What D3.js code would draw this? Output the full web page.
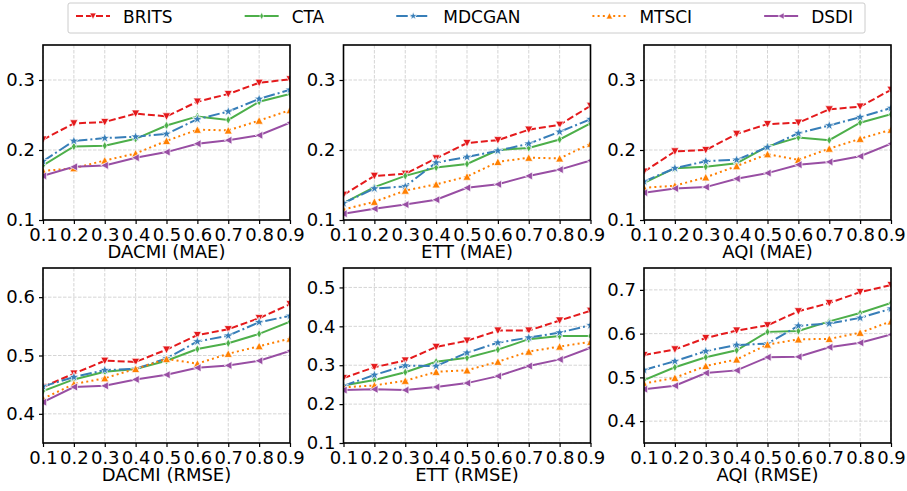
<!DOCTYPE html>
<html>
<head>
<meta charset="utf-8">
<script src="https://cdn.jsdelivr.net/npm/d3@7"></script>
<style>
  body { margin: 0; background: #fff; }
  svg { font-family: 'DejaVu Sans', sans-serif; }
</style>
</head>
<body>
<div id="chart"></div>
<script>
// missing ratios on the x axis
var ratios = [0.1, 0.2, 0.3, 0.4, 0.5, 0.6, 0.7, 0.8, 0.9]
var methods = ['BRITS', 'CTA', 'MDCGAN', 'MTSCI', 'DSDI']
var colors = ['#e41a1c', '#4daf4a', '#377eb8', '#ff7f00', '#984ea3']

// one row per method, in the order of methods
var dacmiMae = [
  [0.215, 0.238, 0.240, 0.252, 0.248, 0.269, 0.280, 0.296, 0.301],
  [0.178, 0.205, 0.206, 0.216, 0.235, 0.248, 0.243, 0.269, 0.280],
  [0.184, 0.213, 0.217, 0.219, 0.223, 0.244, 0.255, 0.273, 0.286],
  [0.170, 0.174, 0.185, 0.195, 0.213, 0.229, 0.228, 0.242, 0.257],
  [0.163, 0.176, 0.178, 0.189, 0.197, 0.209, 0.214, 0.221, 0.239]
]
var ettMae = [
  [0.136, 0.163, 0.166, 0.188, 0.210, 0.214, 0.229, 0.236, 0.263],
  [0.124, 0.147, 0.163, 0.175, 0.180, 0.200, 0.203, 0.215, 0.238],
  [0.124, 0.145, 0.148, 0.182, 0.190, 0.199, 0.209, 0.226, 0.244],
  [0.115, 0.126, 0.142, 0.151, 0.162, 0.183, 0.189, 0.188, 0.209],
  [0.109, 0.116, 0.122, 0.129, 0.146, 0.151, 0.163, 0.172, 0.185]
]
var aqiMae = [
  [0.169, 0.198, 0.200, 0.223, 0.237, 0.239, 0.258, 0.262, 0.286],
  [0.153, 0.174, 0.176, 0.181, 0.205, 0.218, 0.214, 0.239, 0.251],
  [0.155, 0.174, 0.184, 0.186, 0.204, 0.224, 0.235, 0.247, 0.260],
  [0.146, 0.149, 0.161, 0.177, 0.194, 0.186, 0.202, 0.216, 0.229],
  [0.139, 0.145, 0.147, 0.159, 0.167, 0.179, 0.183, 0.191, 0.209]
]
var dacmiRmse = [
  [0.446, 0.469, 0.491, 0.489, 0.510, 0.535, 0.545, 0.564, 0.588],
  [0.439, 0.459, 0.472, 0.477, 0.491, 0.511, 0.521, 0.537, 0.558],
  [0.447, 0.463, 0.475, 0.477, 0.495, 0.524, 0.534, 0.557, 0.568],
  [0.426, 0.451, 0.461, 0.477, 0.494, 0.486, 0.503, 0.516, 0.529],
  [0.420, 0.446, 0.448, 0.459, 0.467, 0.479, 0.483, 0.491, 0.508]
]
var ettRmse = [
  [0.267, 0.295, 0.312, 0.347, 0.363, 0.389, 0.389, 0.415, 0.440],
  [0.248, 0.262, 0.282, 0.309, 0.319, 0.340, 0.367, 0.375, 0.375],
  [0.247, 0.275, 0.299, 0.298, 0.332, 0.358, 0.371, 0.384, 0.403],
  [0.243, 0.248, 0.260, 0.283, 0.287, 0.309, 0.335, 0.348, 0.360],
  [0.236, 0.238, 0.236, 0.244, 0.254, 0.272, 0.298, 0.315, 0.345]
]
var aqiRmse = [
  [0.551, 0.564, 0.590, 0.607, 0.619, 0.651, 0.670, 0.695, 0.711],
  [0.494, 0.523, 0.546, 0.562, 0.604, 0.606, 0.628, 0.647, 0.670],
  [0.517, 0.537, 0.560, 0.574, 0.577, 0.618, 0.623, 0.636, 0.657],
  [0.486, 0.499, 0.526, 0.541, 0.575, 0.587, 0.588, 0.602, 0.628],
  [0.473, 0.481, 0.510, 0.516, 0.546, 0.547, 0.569, 0.579, 0.598]
]

var panelTitles = ['DACMI (MAE)', 'ETT (MAE)', 'AQI (MAE)', 'DACMI (RMSE)', 'ETT (RMSE)', 'AQI (RMSE)']
var panelData = [dacmiMae, ettMae, aqiMae, dacmiRmse, ettRmse, aqiRmse]
var yDomains = [[0.1, 0.35], [0.1, 0.35], [0.1, 0.35], [0.35, 0.65], [0.1, 0.55], [0.35, 0.75]]
var yTickVals = [
  [0.1, 0.2, 0.3], [0.1, 0.2, 0.3], [0.1, 0.2, 0.3],
  [0.4, 0.5, 0.6], [0.1, 0.2, 0.3, 0.4, 0.5], [0.4, 0.5, 0.6, 0.7]
]

// layout settings
var chart = {
  width: 907,
  height: 491,
  colLeft: [43, 343.5, 644],
  rowTop: [45, 268],
  panelW: 247,
  panelH: 175,
  lineW: 2
}
var dashes = ['7,3', null, '11.5,3,2,3', '2,3.2', null]

// marker shapes, r is the half size
function markerPath (i, r) {
  var p
  if (i === 0) p = [[0, r], [-r, -r * 0.9], [r, -r * 0.9]]
  else if (i === 1) p = [[0, -r * 1.1], [r * 0.6, 0], [0, r * 1.1], [-r * 0.6, 0]]
  else if (i === 2) {
    p = []
    for (var k = 0; k < 10; k++) {
      var a = -Math.PI / 2 + k * Math.PI / 5
      var rr = k % 2 === 0 ? r * 1.3 : r * 0.52
      p.push([rr * Math.cos(a), rr * Math.sin(a)])
    }
  } else if (i === 3) p = [[0, -r], [-r, r * 0.9], [r, r * 0.9]]
  else p = [[-r, 0], [r * 0.9, -r], [r * 0.9, r]]
  return 'M' + p.map(function (d) { return d[0].toFixed(2) + ',' + d[1].toFixed(2) }).join('L') + 'Z'
}

var svg = d3.select('#chart')
  .append('svg')
  .attr('width', chart.width)
  .attr('height', chart.height)

panelData.forEach(function (series, pi) {
  var left = chart.colLeft[pi % 3]
  var top = chart.rowTop[Math.floor(pi / 3)]
  var g = svg.append('g').attr('transform', 'translate(' + left + ',' + top + ')')

  var xScale = d3.scaleLinear().domain([0.1, 0.9]).range([0, chart.panelW])
  var yScale = d3.scaleLinear().domain(yDomains[pi]).range([chart.panelH, 0])

  // grid
  g.append('g').selectAll('line')
    .data(ratios)
    .enter()
    .append('line')
    .attr('x1', function (d) { return xScale(d) })
    .attr('x2', function (d) { return xScale(d) })
    .attr('y1', 0)
    .attr('y2', chart.panelH)
    .attr('stroke', '#d0d0d0')
    .attr('stroke-width', 0.9)
    .attr('stroke-dasharray', '3.5,1.5')
  g.append('g').selectAll('line')
    .data(yTickVals[pi])
    .enter()
    .append('line')
    .attr('x1', 0)
    .attr('x2', chart.panelW)
    .attr('y1', function (d) { return yScale(d) })
    .attr('y2', function (d) { return yScale(d) })
    .attr('stroke', '#d0d0d0')
    .attr('stroke-width', 0.9)
    .attr('stroke-dasharray', '3.5,1.5')

  var clipId = 'clip' + pi
  g.append('clipPath').attr('id', clipId)
    .append('rect')
    .attr('width', chart.panelW)
    .attr('height', chart.panelH)

  var plot = g.append('g').attr('clip-path', 'url(#' + clipId + ')')
  var line = d3.line()
    .x(function (d, i) { return xScale(ratios[i]) })
    .y(function (d) { return yScale(d) })

  series.forEach(function (vals, mi) {
    var s = plot.append('g')
    s.append('path')
      .attr('d', line(vals))
      .attr('fill', 'none')
      .attr('stroke', colors[mi])
      .attr('stroke-width', chart.lineW)
      .attr('stroke-dasharray', dashes[mi])
    s.selectAll('path.marker')
      .data(vals)
      .enter()
      .append('path')
      .attr('class', 'marker')
      .attr('d', markerPath(mi, 4))
      .attr('transform', function (d, i) {
        return 'translate(' + xScale(ratios[i]) + ',' + yScale(d) + ')'
      })
      .attr('fill', colors[mi])
      .attr('stroke', '#fff')
      .attr('stroke-width', 0.7)
  })

  // axes
  var xAxis = d3.axisBottom(xScale).tickValues(ratios).tickSize(4).tickPadding(4)
    .tickFormat(d3.format('.1f'))
  var yAxis = d3.axisLeft(yScale).tickValues(yTickVals[pi]).tickSize(4).tickPadding(4)
    .tickFormat(d3.format('.1f'))
  var gx = g.append('g').attr('transform', 'translate(0,' + chart.panelH + ')').call(xAxis)
  var gy = g.append('g').call(yAxis)
  ;[gx, gy].forEach(function (ax) {
    ax.select('.domain').remove()
    ax.selectAll('line').attr('stroke', '#000').attr('stroke-width', 1.2)
    ax.selectAll('text').attr('font-size', 18).attr('fill', '#000')
      .attr('font-family', "'DejaVu Sans', sans-serif")
  })
  gx.selectAll('text').attr('dy', '0.71em')

  g.append('rect')
    .attr('width', chart.panelW)
    .attr('height', chart.panelH)
    .attr('fill', 'none')
    .attr('stroke', '#000')
    .attr('stroke-width', 1.6)

  g.append('text')
    .text(panelTitles[pi])
    .attr('x', chart.panelW / 2)
    .attr('y', chart.panelH + 38)
    .attr('text-anchor', 'middle')
    .attr('font-size', 18)
    .attr('fill', '#000')
})

// legend on top
var legend = svg.append('g')
legend.append('rect')
  .attr('x', 68)
  .attr('y', 3)
  .attr('width', 797)
  .attr('height', 30)
  .attr('rx', 2)
  .attr('fill', '#fff')
  .attr('stroke', '#cccccc')
  .attr('stroke-width', 1)

var cursor = 76
methods.forEach(function (name, mi) {
  var item = legend.append('g').attr('transform', 'translate(' + cursor + ',16)')
  item.append('line')
    .attr('x1', 0).attr('x2', 34)
    .attr('y1', 0).attr('y2', 0)
    .attr('stroke', colors[mi])
    .attr('stroke-width', chart.lineW)
    .attr('stroke-dasharray', dashes[mi])
  item.append('path')
    .attr('d', markerPath(mi, 3.2))
    .attr('transform', 'translate(17,0)')
    .attr('fill', colors[mi])
    .attr('stroke', '#fff')
    .attr('stroke-width', 0.6)
  var t = item.append('text')
    .text(name)
    .attr('x', 47)
    .attr('y', 7)
    .attr('font-size', 17)
    .attr('fill', '#000')
  cursor += 47 + t.node().getComputedTextLength() + 72
})
</script>
</body>
</html>
